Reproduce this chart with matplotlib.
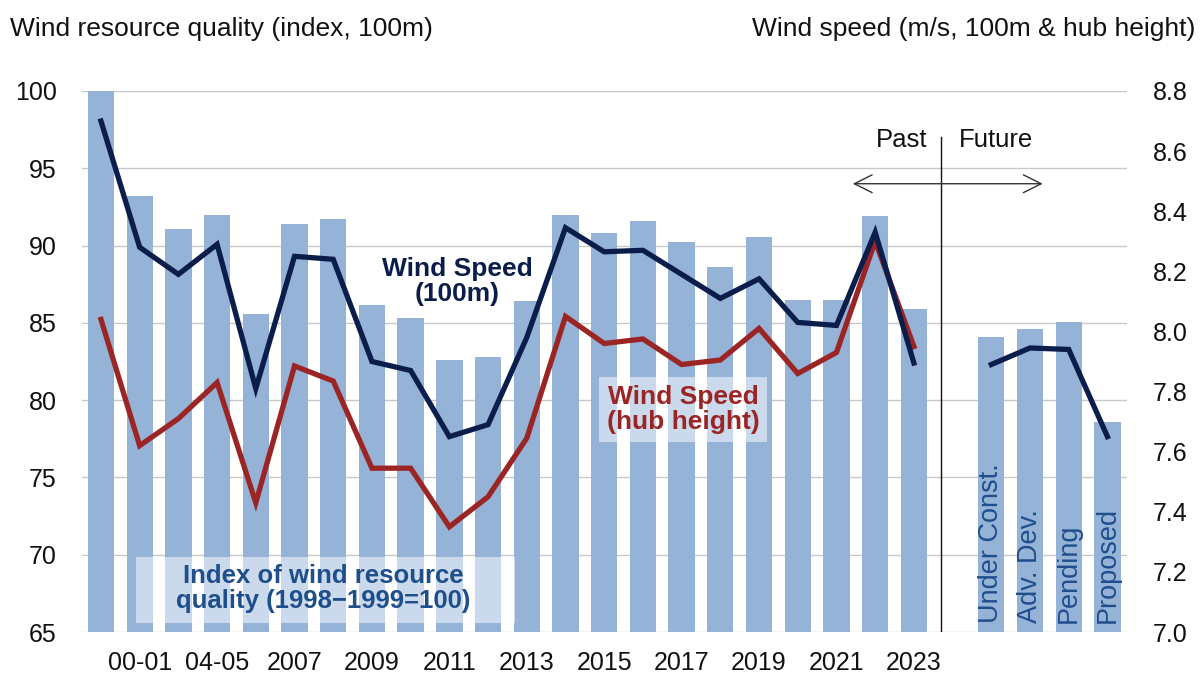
import matplotlib

matplotlib.use("Agg")
import matplotlib.pyplot as plt
from matplotlib.patches import Rectangle
import numpy as np

plt.rcParams["font.family"] = ["Liberation Sans", "DejaVu Sans"]

# Past years (index 0 = 1998-99 ... 21 = 2023)
past_ticks = ["00-01", "04-05", "2007", "2009", "2011", "2013",
              "2015", "2017", "2019", "2021", "2023"]
past_index = [100.0, 93.2, 91.1, 92.0, 85.6, 91.4, 91.7, 86.15, 85.3, 82.6, 82.8,
              86.4, 92.0, 90.8, 91.6, 90.2, 88.6, 90.55, 86.5, 86.5, 91.9, 85.9]
past_speed_100m = [8.70, 8.28, 8.19, 8.29, 7.81, 8.25, 8.24, 7.90, 7.87, 7.65, 7.69,
                   7.98, 8.345, 8.265, 8.27, 8.19, 8.11, 8.175, 8.03, 8.02, 8.33, 7.895]
past_speed_hub = [8.04, 7.62, 7.71, 7.83, 7.43, 7.885, 7.835, 7.545, 7.545, 7.35, 7.45,
                  7.645, 8.05, 7.96, 7.975, 7.89, 7.905, 8.01, 7.86, 7.93, 8.30, 7.95]

# Future pipeline
future_labels = ["Under Const.", "Adv. Dev.", "Pending", "Proposed"]
future_index = [84.1, 84.6, 85.05, 78.6]
future_speed_100m = [7.89, 7.945, 7.94, 7.65]

BAR_COLOR = "#95b3d7"
NAVY = "#0b1d4b"
RED = "#9b2424"
TEXT_BLUE = "#1f4e8c"

past_x = np.arange(len(past_index))
future_x = len(past_index) + 1 + np.arange(len(future_index))
tick_x = past_x[1::2]

fig = plt.figure(figsize=(12, 6.75), dpi=100)
ax = fig.add_axes([0.068, 0.0637, 0.871, 0.8015])
ax2 = ax.twinx()

ax.bar(past_x, past_index, width=0.68, color=BAR_COLOR, zorder=2)
ax.bar(future_x, future_index, width=0.68, color=BAR_COLOR, zorder=2)

ax.set_xlim(-0.5, future_x[-1] + 0.5)
ax.set_ylim(65, 100)
ax.set_yticks(np.arange(65, 101, 5))
ax.yaxis.grid(True, color="#c8c8c8", linewidth=1.0, zorder=0)
ax.set_axisbelow(True)
ax.set_xticks(tick_x)
ax.set_xticklabels(past_ticks)
ax.tick_params(axis="both", length=0, labelsize=18, colors="#111111")
ax.tick_params(axis="x", pad=14)
ax.tick_params(axis="y", pad=18)
for spine in ax.spines.values():
    spine.set_visible(False)

ax2.plot(past_x, past_speed_100m, color=NAVY, linewidth=3.8, solid_joinstyle="miter", zorder=4)
ax2.plot(past_x, past_speed_hub, color=RED, linewidth=3.8, solid_joinstyle="miter", zorder=3)
ax2.plot(future_x, future_speed_100m, color=NAVY, linewidth=3.8, solid_joinstyle="miter", zorder=4)
ax2.set_ylim(7.0, 8.8)
right_ticks = np.round(np.arange(7.0, 8.81, 0.2), 1)
ax2.set_yticks(right_ticks)
ax2.set_yticklabels([f"{v:.1f}" for v in right_ticks])
ax2.tick_params(axis="y", length=0, labelsize=18, colors="#111111", pad=19)
for spine in ax2.spines.values():
    spine.set_visible(False)

# Past / Future divider
divider = 21.7
ax.plot([divider, divider], [65, 97.0], color="#111111", linewidth=1.0, zorder=5)
ax.annotate("", xy=(19.35, 94.0), xytext=(24.4, 94.0),
            arrowprops=dict(arrowstyle="<->", color="#333333", lw=1.0,
                            mutation_scale=32), zorder=5)
ax.text(divider - 0.35, 96.8, "Past", ha="right", va="center", fontsize=18.5, color="#111111")
ax.text(divider + 0.45, 96.8, "Future", ha="left", va="center", fontsize=18.5, color="#111111")

for x, label in zip(future_x, future_labels):
    ax.text(x, 65.6, label, rotation=90, ha="center", va="bottom",
            fontsize=19.5, color=TEXT_BLUE, zorder=6)

ax.text(9.2, 87.65, "Wind Speed\n(100m)", ha="center", va="center", fontsize=19,
        fontweight="bold", color=NAVY, linespacing=1.05, zorder=6)
ax.text(15.04, 79.4, "Wind Speed\n(hub height)", ha="center", va="center", fontsize=19,
        fontweight="bold", color=RED, linespacing=1.05, zorder=6,
        bbox=dict(boxstyle="square,pad=0.3", facecolor="white", edgecolor="none", alpha=0.5))

ax.add_patch(Rectangle((0.9, 65.6), 9.8, 4.26, facecolor="white", edgecolor="none",
                       alpha=0.5, zorder=5))
ax.text(5.75, 67.8, "Index of wind resource\nquality (1998\u22121999=100)", ha="center",
        va="center", fontsize=18.5, fontweight="bold", color=TEXT_BLUE, linespacing=1.05,
        zorder=6)

fig.text(0.008, 0.957, "Wind resource quality (index, 100m)", ha="left", va="center",
         fontsize=19, color="#111111")
fig.text(0.996, 0.957, "Wind speed (m/s, 100m & hub height)", ha="right", va="center",
         fontsize=19, color="#111111")

fig.savefig("out.png", dpi=100)
